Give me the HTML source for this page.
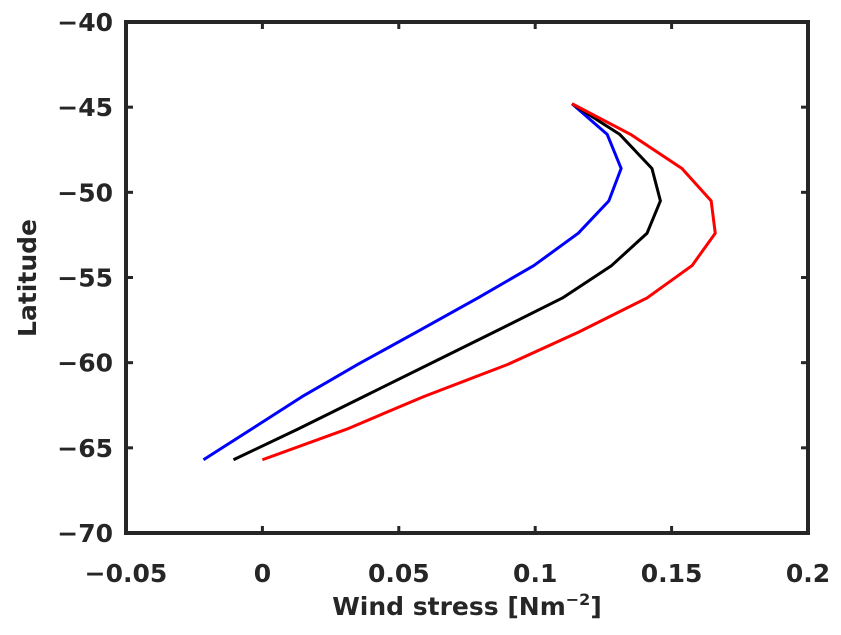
<!DOCTYPE html>
<html><head><meta charset="utf-8"><style>body{margin:0;background:#fff}svg{display:block;font-family:"DejaVu Sans","Liberation Sans",sans-serif;font-weight:bold}</style></head>
<body>
<svg id="chart" width="841" height="635" xmlns="http://www.w3.org/2000/svg"></svg>
<script>
const lats=[-44.8,-46.6,-48.6,-50.5,-52.4,-54.3,-56.2,-58.2,-60.1,-62,-63.9,-65.7];
const blueVals=[0.1135,0.1264,0.1315,0.127,0.1158,0.0995,0.079,0.0565,0.035,0.0145,-0.004,-0.0216];
const blackVals=[0.1135,0.131,0.1428,0.1459,0.141,0.128,0.110,0.085,0.061,0.037,0.013,-0.0106];
const redVals=[0.1135,0.135,0.1538,0.1645,0.166,0.1575,0.141,0.116,0.090,0.059,0.031,0.0];
const xTicks=[-0.05,0,0.05,0.1,0.15,0.2];
const xTickLabels=["\u22120.05","0","0.05","0.1","0.15","0.2"];
const yTicks=[-40,-45,-50,-55,-60,-65,-70];
const yTickLabels=["\u221240","\u221245","\u221250","\u221255","\u221260","\u221265","\u221270"];
const L=126,R=808,T=22,B=533;
const xs=v=>L+(v+0.05)/0.25*(R-L);
const ys=v=>T+(-40-v)/30*(B-T);
const svg=document.getElementById('chart');
const NS="http://www.w3.org/2000/svg";
function mk(tag,attrs,parent){const e=document.createElementNS(NS,tag);for(const k in attrs)e.setAttribute(k,attrs[k]);(parent||svg).appendChild(e);return e;}
const series=[[blueVals,"#0000ff","blue-series"],[blackVals,"#000000","black-series"],[redVals,"#ff0000","red-series"]];
series.forEach(([vals,col,name])=>{
  const p=mk('polyline',{points:vals.map((v,i)=>xs(v)+","+ys(lats[i])).join(" "),fill:"none",stroke:col,"stroke-width":3,"stroke-linejoin":"round"});
  
  
});
const frame=mk('rect',{x:L,y:T,width:R-L,height:B-T,fill:"none",stroke:"#262626","stroke-width":4});


xTicks.forEach((v,i)=>{
  const x=xs(v);
  mk('line',{x1:x,x2:x,y1:B,y2:B-7,stroke:"#262626","stroke-width":3});
  mk('line',{x1:x,x2:x,y1:T,y2:T+7,stroke:"#262626","stroke-width":3});
  const t=mk('text',{x:x,y:582,"text-anchor":"middle","font-size":25,fill:"#262626"});
  t.textContent=xTickLabels[i];
  
  
});
yTicks.forEach((v,i)=>{
  const y=ys(v);
  mk('line',{x1:L,x2:L+7,y1:y,y2:y,stroke:"#262626","stroke-width":3});
  mk('line',{x1:R,x2:R-7,y1:y,y2:y,stroke:"#262626","stroke-width":3});
  const t=mk('text',{x:113,y:y+9,"text-anchor":"end","font-size":25,fill:"#262626"});
  t.textContent=yTickLabels[i];
  
  
});
</script>
<svg style="position:absolute;left:0;top:0" width="841" height="635" xmlns="http://www.w3.org/2000/svg">
<text x="0" y="0" transform="translate(36,278) rotate(-90)" text-anchor="middle" font-size="25" fill="#262626">Latitude</text>
<text x="467" y="615" text-anchor="middle" font-size="25" fill="#262626">Wind stress [Nm<tspan dy="-10" font-size="16">−2</tspan><tspan dy="10">]</tspan></text>
</svg>
</body></html>
